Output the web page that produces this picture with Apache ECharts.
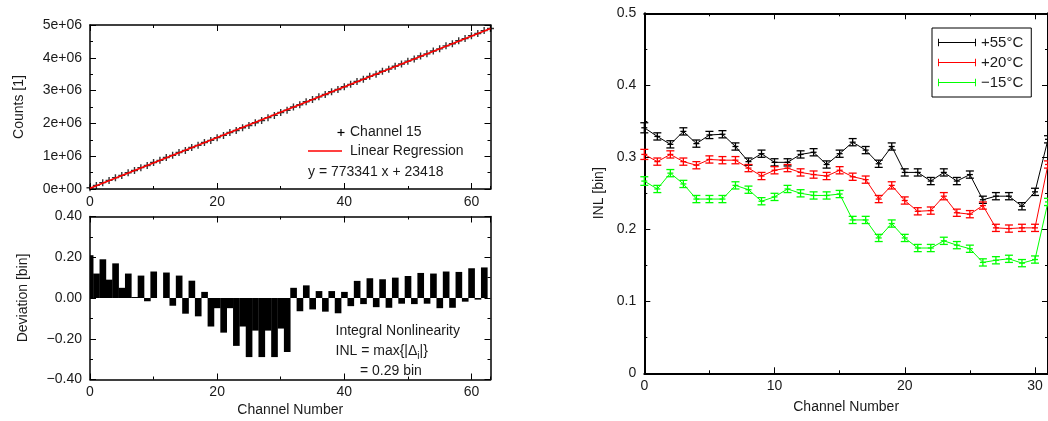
<!DOCTYPE html>
<html><head><meta charset="utf-8">
<script src="https://cdn.jsdelivr.net/npm/echarts@6/dist/echarts.min.js"></script>
<style>html,body{margin:0;padding:0;background:#fff}#c{width:1048px;height:421px}</style>
</head><body><div id="c"></div>
<script>
// ---------- data ----------
const channels = [0,1,2,3,4,5,6,7,8,9,10,11,12,13,14,15,16,17,18,19,20,21,22,23,24,25,26,27,28,29,30,31,32,33,34,35,36,37,38,39,40,41,42,43,44,45,46,47,48,49,50,51,52,53,54,55,56,57,58,59,60,61,62,63];
const counts = [40000,110000,193000,262000,346000,414000,497000,565000,651000,718000,807000,874000,961000,1026000,1115000,1177000,1267000,1331000,1418000,1482000,1566000,1634000,1721000,1784000,1869000,1934000,2022000,2089000,2176000,2244000,2332000,2400000,2502000,2570000,2658000,2726000,2810000,2880000,2965000,3034000,3119000,3191000,3278000,3346000,3434000,3500000,3588000,3654000,3743000,3811000,3898000,3965000,4054000,4120000,4209000,4273000,4364000,4428000,4519000,4585000,4675000,4740000,4830000,4895000];
const regX = [0, 63];
const regY = [23418, 4895460];
const deviation = [0.21,0.12,0.19,0.09,0.17,0.05,0.12,0.005,0.11,-0.016,0.13,0.0,0.125,-0.038,0.11,-0.077,0.085,-0.09,0.03,-0.14,-0.05,-0.17,-0.05,-0.235,-0.14,-0.29,-0.16,-0.29,-0.16,-0.29,-0.15,-0.265,0.05,-0.065,0.062,-0.056,0.034,-0.067,0.034,-0.075,0.03,-0.04,0.084,-0.03,0.097,-0.045,0.092,-0.048,0.1,-0.028,0.108,-0.03,0.123,-0.028,0.12,-0.05,0.13,-0.048,0.128,-0.018,0.146,-0.008,0.15,0.0];

const inlChannels = [0,1,2,3,4,5,6,7,8,9,10,11,12,13,14,15,16,17,18,19,20,21,22,23,24,25,26,27,28,29,30,31];
const inl55  = [0.341,0.329,0.318,0.336,0.319,0.331,0.332,0.315,0.294,0.305,0.293,0.293,0.304,0.307,0.290,0.305,0.321,0.310,0.291,0.315,0.279,0.279,0.267,0.279,0.267,0.276,0.241,0.246,0.246,0.232,0.252,0.325];
const inl20  = [0.304,0.294,0.304,0.294,0.289,0.297,0.296,0.296,0.285,0.274,0.282,0.285,0.279,0.276,0.274,0.282,0.273,0.269,0.242,0.261,0.240,0.225,0.226,0.246,0.223,0.221,0.233,0.202,0.201,0.202,0.202,0.290];
const inlM15 = [0.267,0.256,0.278,0.263,0.242,0.242,0.242,0.261,0.255,0.239,0.245,0.256,0.250,0.247,0.247,0.249,0.213,0.213,0.188,0.208,0.188,0.174,0.174,0.184,0.178,0.173,0.154,0.157,0.159,0.153,0.158,0.238];
const err55  = [0.007,0.005,0.005,0.005,0.005,0.005,0.005,0.005,0.005,0.005,0.005,0.005,0.005,0.005,0.005,0.005,0.005,0.005,0.005,0.005,0.005,0.005,0.005,0.005,0.005,0.005,0.005,0.005,0.005,0.005,0.005,0.005];
const err20  = [0.007,0.005,0.005,0.005,0.005,0.005,0.005,0.005,0.005,0.005,0.005,0.005,0.005,0.005,0.005,0.005,0.005,0.005,0.005,0.005,0.005,0.005,0.005,0.005,0.005,0.005,0.005,0.005,0.005,0.005,0.005,0.005];
const errM15 = [0.006,0.005,0.005,0.005,0.005,0.005,0.005,0.005,0.005,0.005,0.005,0.005,0.005,0.005,0.005,0.005,0.005,0.005,0.005,0.005,0.005,0.005,0.005,0.005,0.005,0.005,0.005,0.005,0.005,0.005,0.005,0.005];
const seriesNames = ['+55°C', '+20°C', '\u221215°C'];

const legendTop = ['Channel 15', 'Linear Regression'];
const fitText = 'y = 773341 x + 23418';
const inlNote = ['Integral Nonlinearity', 'INL = max{|\u0394', 'i', '|}', '= 0.29 bin'];
const axisNames = { counts: 'Counts [1]', dev: 'Deviation [bin]', inl: 'INL [bin]', ch: 'Channel Number' };

// ---------- styling ----------
const FONT = '"Liberation Sans", Arial, Helvetica, sans-serif';
const TXT = '#1a1a1a';
const lab = { color: TXT, fontSize: 14, fontFamily: FONT };

function xAxesFor(g, max, major, minor, lw, name, nameGap) {
  const base = { gridIndex: g, type: 'value', min: 0, max: max, splitLine: { show: false } };
  return [
    Object.assign({}, base, { position: 'bottom', interval: major,
      axisLine: { show: true, onZero: false, lineStyle: { color: '#000', width: lw } },
      axisTick: { show: true, inside: true, length: 6, lineStyle: { color: '#000', width: 1 } },
      axisLabel: Object.assign({ show: true, margin: 6, showMaxLabel: false }, lab),
      name: name || '', nameLocation: 'middle', nameGap: nameGap || 0, nameTextStyle: lab }),
    Object.assign({}, base, { position: 'bottom', interval: minor,
      axisLine: { show: false, onZero: false },
      axisTick: { show: true, inside: true, length: 3, lineStyle: { color: '#000', width: 1 } },
      axisLabel: { show: false } }),
    Object.assign({}, base, { position: 'top', interval: major,
      axisLine: { show: true, onZero: false, lineStyle: { color: '#000', width: lw } },
      axisTick: { show: true, inside: true, length: 6, lineStyle: { color: '#000', width: 1 } },
      axisLabel: { show: false } }),
    Object.assign({}, base, { position: 'top', interval: minor,
      axisLine: { show: false, onZero: false },
      axisTick: { show: true, inside: true, length: 3, lineStyle: { color: '#000', width: 1 } },
      axisLabel: { show: false } })
  ];
}
function yAxesFor(g, min, max, interval, lw, fmt, name, nameGap) {
  const base = { gridIndex: g, type: 'value', min: min, max: max, interval: interval, splitLine: { show: false },
    minorTick: { show: true, splitNumber: 2, length: 3, lineStyle: { color: '#000', width: 1 } } };
  return [
    Object.assign({}, base, { position: 'left',
      axisLine: { show: true, onZero: false, lineStyle: { color: '#000', width: lw } },
      axisTick: { show: true, inside: true, length: 6, lineStyle: { color: '#000', width: 1 } },
      axisLabel: Object.assign({ show: true, margin: 8, formatter: fmt }, lab),
      name: name, nameLocation: 'middle', nameGap: nameGap, nameTextStyle: lab }),
    Object.assign({}, base, { position: 'right',
      axisLine: { show: true, onZero: false, lineStyle: { color: '#000', width: lw } },
      axisTick: { show: true, inside: true, length: 6, lineStyle: { color: '#000', width: 1 } },
      axisLabel: { show: false } })
  ];
}

const plusPath = 'path://M2,0h1v2h2v1h-2v2h-1v-2h-2v-1h2z';
const legendIcon = 'path://M0,0h1v3.5h38v-3.5h1v8h-1v-3.5h-38v3.5h-1z';

function errSeries(name, color, ys, errs) {
  return {
    type: 'custom', name: name, xAxisIndex: 8, yAxisIndex: 4, z: 3,
    itemStyle: { color: color },
    data: inlChannels.map((x, i) => [x, ys[i] - errs[i], ys[i] + errs[i], ys[i]]),
    encode: { x: 0, y: [1, 2, 3] },
    renderItem: function (params, api) {
      const x = api.value(0);
      const lo = api.coord([x, api.value(1)]);
      const hi = api.coord([x, api.value(2)]);
      const mid = api.coord([x, api.value(3)]);
      const st = { stroke: color, lineWidth: 1.3 };
      const cw = 4;
      return { type: 'group', children: [
        { type: 'line', shape: { x1: lo[0], y1: lo[1], x2: hi[0], y2: hi[1] }, style: st },
        { type: 'line', shape: { x1: lo[0] - cw, y1: lo[1], x2: lo[0] + cw, y2: lo[1] }, style: st },
        { type: 'line', shape: { x1: hi[0] - cw, y1: hi[1], x2: hi[0] + cw, y2: hi[1] }, style: st },
        { type: 'line', shape: { x1: mid[0] - 3, y1: mid[1], x2: mid[0] + 3, y2: mid[1] }, style: st }
      ] };
    }
  };
}
function lineSeries(color, ys) {
  return { type: 'line', xAxisIndex: 8, yAxisIndex: 4, symbol: 'none', z: 2,
    lineStyle: { color: color, width: 1 }, itemStyle: { color: color },
    data: inlChannels.map((x, i) => [x, ys[i]]) };
}

// full-width boxes (one channel wide), positioned by the axis scales
const boxSeries = {
  type: 'custom', xAxisIndex: 4, yAxisIndex: 2,
  data: channels.map((x, i) => [x, deviation[i]]),
  encode: { x: 0, y: 1 },
  renderItem: function (params, api) {
    const x = api.value(0), v = api.value(1);
    const p0 = api.coord([x - 0.5, 0]);
    const p1 = api.coord([x + 0.5, v]);
    const rect = echarts.graphic.clipRectByRect({
      x: p0[0], y: Math.min(p0[1], p1[1]), width: p1[0] - p0[0] + 0.3, height: Math.abs(p1[1] - p0[1])
    }, { x: params.coordSys.x, y: params.coordSys.y, width: params.coordSys.width, height: params.coordSys.height });
    return rect && { type: 'rect', shape: rect, style: { fill: '#000' } };
  }
};

const chart = echarts.init(document.getElementById('c'), null, { renderer: 'canvas' });
const option = {
  animation: false,
  backgroundColor: '#fff',
  textStyle: { fontFamily: FONT },
  grid: [
    { left: 90, top: 25, width: 400.5, height: 164 },
    { left: 90, top: 216.5, width: 400.5, height: 163 },
    { left: 644.3, top: 13.3, width: 407.4, height: 360 }
  ],
  xAxis: [].concat(
    xAxesFor(0, 63, 20, 10, 1.5),
    xAxesFor(1, 63, 20, 10, 1.5, axisNames.ch, 24),
    xAxesFor(2, 31, 10, 5, 2, axisNames.ch, 27)
  ),
  yAxis: [].concat(
    yAxesFor(0, 0, 5e6, 1e6, 1.5, v => v === 0 ? '0e+00' : (v / 1e6) + 'e+06', axisNames.counts, 64),
    yAxesFor(1, -0.4, 0.4, 0.2, 1.5, v => v.toFixed(2).replace('-', '\u2212'), axisNames.dev, 60),
    yAxesFor(2, 0, 0.5, 0.1, 2, v => String(v), axisNames.inl, 38)
  ),
  legend: {
    data: seriesNames, orient: 'vertical', left: 932, top: 28,
    padding: [7, 8, 7, 6], itemGap: 5, itemWidth: 38, itemHeight: 8,
    icon: legendIcon, selectedMode: false,
    borderColor: '#000', borderWidth: 1, borderRadius: 0, backgroundColor: '#fff',
    textStyle: { color: TXT, fontSize: 15, fontFamily: FONT }
  },
  series: [
    { type: 'scatter', xAxisIndex: 0, yAxisIndex: 0, symbol: plusPath, symbolSize: 7,
      itemStyle: { color: '#000' }, data: channels.map((x, i) => [x, counts[i]]) },
    { type: 'line', xAxisIndex: 0, yAxisIndex: 0, symbol: 'none',
      lineStyle: { color: '#ff0000', width: 1.5 }, data: regX.map((x, i) => [x, regY[i]]) },
    boxSeries,
    lineSeries('#000000', inl55), lineSeries('#ff0000', inl20), lineSeries('#00ff00', inlM15),
    errSeries(seriesNames[0], '#000000', inl55, err55),
    errSeries(seriesNames[1], '#ff0000', inl20, err20),
    errSeries(seriesNames[2], '#00ff00', inlM15, errM15)
  ],
  graphic: [
    { type: 'line', shape: { x1: 337.5, y1: 132.5, x2: 344.5, y2: 132.5 }, style: { stroke: '#000', lineWidth: 1.2 } },
    { type: 'line', shape: { x1: 341, y1: 129, x2: 341, y2: 136 }, style: { stroke: '#000', lineWidth: 1.2 } },
    { type: 'text', x: 350, y: 132.5, style: { text: legendTop[0], fill: TXT, font: '14px ' + FONT, verticalAlign: 'middle', align: 'left' } },
    { type: 'line', shape: { x1: 308, y1: 151, x2: 342, y2: 151 }, style: { stroke: '#ff0000', lineWidth: 1.5 } },
    { type: 'text', x: 350, y: 151, style: { text: legendTop[1], fill: TXT, font: '14px ' + FONT, verticalAlign: 'middle', align: 'left' } },
    { type: 'text', x: 308, y: 172, style: { text: fitText, fill: TXT, font: '14px ' + FONT, verticalAlign: 'middle', align: 'left' } },
    { type: 'text', x: 335.5, y: 331.5, style: { text: inlNote[0], fill: TXT, font: '14px ' + FONT, verticalAlign: 'middle', align: 'left' } },
    { type: 'text', x: 335.5, y: 351.5, style: {
        text: '{m|' + inlNote[1] + '}{s|' + inlNote[2] + '}{m|' + inlNote[3] + '}',
        fill: TXT, font: '14px ' + FONT, verticalAlign: 'middle', align: 'left',
        rich: { m: { fontSize: 14, fontFamily: FONT, fill: TXT, lineHeight: 20, verticalAlign: 'middle' },
                s: { fontSize: 10, fontFamily: FONT, fill: TXT, lineHeight: 20, verticalAlign: 'bottom' } } } },
    { type: 'text', x: 360, y: 371.5, style: { text: inlNote[4], fill: TXT, font: '14px ' + FONT, verticalAlign: 'middle', align: 'left' } }
  ]
};
chart.setOption(option);
</script>
</body></html>
